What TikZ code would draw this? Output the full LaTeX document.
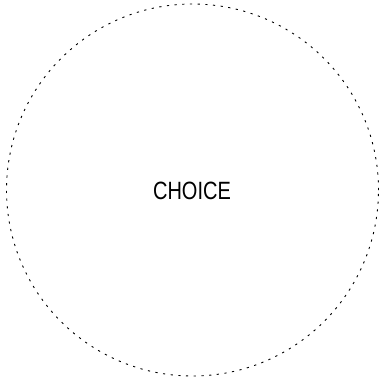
\documentclass[tikz,border=0pt]{standalone}
\usepackage{fontspec}
\setmainfont{Liberation Sans}[FakeStretch=0.80]
\tikzset{
  choicering/.style={draw=black, line width=0.9pt, dash pattern=on 2.2pt off 5.5pt},
  choicetext/.style={font=\fontsize{25}{28}\selectfont, text=black, inner sep=0pt}
}
\begin{document}
\begin{tikzpicture}[x=1pt,y=-1pt]
\useasboundingbox (0,0) rectangle (381,381);
\node[choicering, circle, minimum size=372pt, inner sep=0pt] (ring) at (192.5,190) {};
\node[choicetext] (label) at (192,191) {CHOICE};
\end{tikzpicture}
\end{document}
